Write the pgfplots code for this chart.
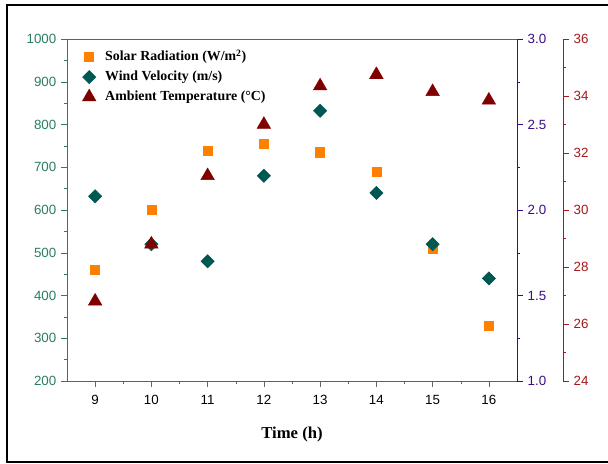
\documentclass[border=0pt]{standalone}
\usepackage{pgfplots}
\pgfplotsset{compat=1.18}
\usepackage{fontspec}
\setmainfont{Liberation Serif}
\setsansfont{Liberation Sans}

\definecolor{lefty}{RGB}{42,125,95}
\definecolor{midy}{RGB}{60,12,135}
\definecolor{righty}{RGB}{165,25,25}
\definecolor{solar}{RGB}{255,128,0}
\definecolor{wind}{RGB}{0,88,82}
\definecolor{temp}{RGB}{128,0,0}

\pgfplotsset{
  base/.style={
    scale only axis, xmin=8.5,
    at={(50.25pt,62.25pt)}, anchor=south west, height=256.5pt,
    tick align=outside,
    major tick length=4.5pt, minor tick length=2.5pt,
    /pgf/number format/assume math mode=true,
    tick label style={font=\sffamily\fontsize{10}{12}\selectfont},
  },
}

\begin{document}
\begin{tikzpicture}
\path[use as bounding box] (0pt,0pt) rectangle (456pt,348pt);
\draw[line width=1.3pt] (456pt,344.25pt) -- (5.25pt,344.25pt) -- (5.25pt,1.5pt) -- (456pt,1.5pt);

% left axis: solar radiation
\begin{axis}[base, width=337.5pt,
  xmax=16.5, ymin=200, ymax=1000,
  xtick={9,...,16}, minor x tick num=1,
  ytick={200,300,...,1000}, minor y tick num=1,
  xtick pos=bottom, ytick pos=left,
  x axis line style={gray!80!black},
  y axis line style={lefty},
  ytick style={lefty}, xtick style={gray!80!black},
  yticklabel style={lefty, /pgf/number format/1000 sep={}},
  xticklabel style={yshift=-2.5pt},
  xlabel={\textbf{Time (h)}},
  xlabel style={font=\rmfamily\fontsize{12.5}{14}\selectfont, yshift=-10pt},
  legend style={draw=none, fill=none, at={(0.025,0.985)}, anchor=north west,
    font=\rmfamily\bfseries\fontsize{10.4}{12}\selectfont,
    row sep=2.2pt, column sep=5pt},
  legend cell align=left,
]
\addplot[only marks, mark=square*, mark size=3.4pt, color=solar]
  coordinates {(9,460)(10,600)(11,738)(12,754)(13,735)(14,690)(15,510)(16,330)};
\addlegendentry{Solar Radiation (W/m\textsuperscript{2})}
\addlegendimage{only marks, mark=square*, mark options={rotate=45}, mark size=3.5pt, color=wind}
\addlegendentry{Wind Velocity (m/s)}
\addlegendimage{only marks, mark=triangle*, mark size=5.8pt, color=temp}
\addlegendentry{Ambient Temperature (\textdegree C)}
\end{axis}

% middle axis: wind velocity
\begin{axis}[base, width=337.5pt,
  xmax=16.5, ymin=1, ymax=3,
  axis x line=none, axis y line*=right,
  ytick={1,1.5,...,3}, minor y tick num=1,
  y axis line style={midy}, ytick style={midy},
  yticklabel style={midy, /pgf/number format/fixed, /pgf/number format/fixed zerofill, /pgf/number format/precision=1},
]
\addplot[only marks, mark=square*, mark options={rotate=45}, mark size=3.5pt, color=wind]
  coordinates {(9,2.08)(10,1.80)(11,1.70)(12,2.20)(13,2.58)(14,2.10)(15,1.80)(16,1.60)};
\end{axis}

% right axis: ambient temperature
\begin{axis}[base, width=372pt,
  xmax=17.318, ymin=24, ymax=36,
  axis x line=none, axis y line*=right,
  ytick={24,26,...,36}, minor y tick num=1,
  y axis line style={righty}, ytick style={righty},
  yticklabel style={righty},
]
\addplot[only marks, mark=triangle*, mark size=5.8pt, color=temp]
  coordinates {(9,26.8)(10,28.8)(11,31.2)(12,33.0)(13,34.35)(14,34.75)(15,34.15)(16,33.85)};
\end{axis}
\end{tikzpicture}
\end{document}
